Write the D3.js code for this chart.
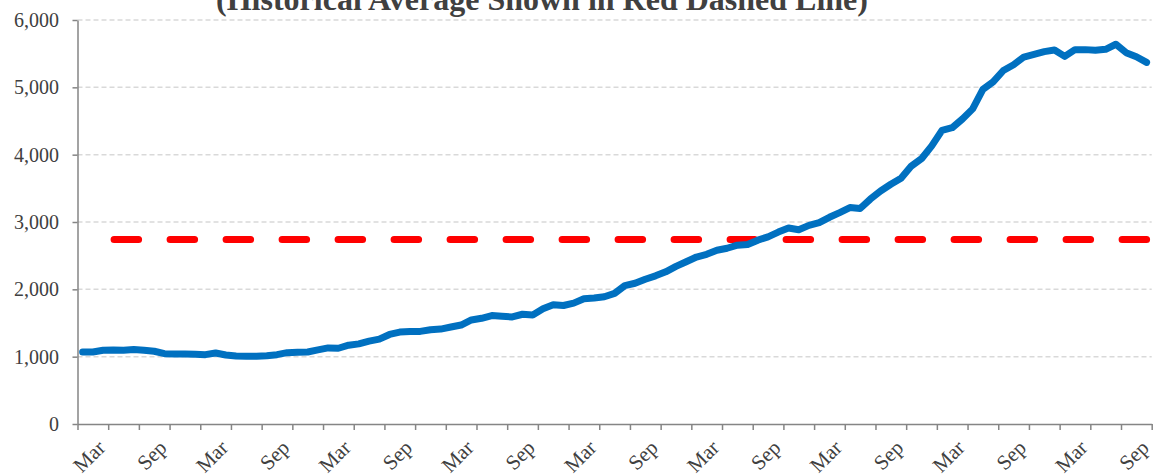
<!DOCTYPE html>
<html>
<head>
<meta charset="utf-8">
<script src="https://cdn.jsdelivr.net/npm/d3@7"></script>
<style>
  body { margin: 0; background: #fff; }
  svg { display: block; font-family: "Times New Roman", "Liberation Serif", serif; }
  .grid line { stroke: #d9d9d9; stroke-width: 1.5; stroke-dasharray: 5,3; }
  .axis path, .axis line { stroke: #858585; stroke-width: 1.5; }
  .axis text { fill: #404040; font-size: 20px; font-family: "Times New Roman", "Liberation Serif", serif; }
  .months text { font-size: 21px; }
</style>
</head>
<body>
<div id="chart"></div>
<script>
// --------------------------------------------------
// dati
// --------------------------------------------------

// mesi da marzo (anno 1) a novembre (anno 9): 105 mesi
var months = d3.timeMonth.range(new Date(2012, 2, 1), new Date(2020, 11, 1))

var values = [
	1070, 1070, 1095, 1100, 1095, 1105, 1095, 1080, 1045, 1040,
	1040, 1035, 1030, 1055, 1025, 1010, 1005, 1005, 1015, 1030,
	1060, 1065, 1070, 1100, 1130, 1125, 1170, 1190, 1230, 1260,
	1330, 1365, 1375, 1375, 1400, 1410, 1440, 1470, 1545, 1570,
	1610, 1600, 1590, 1630, 1620, 1710, 1770, 1760, 1795, 1860,
	1870, 1890, 1940, 2055, 2090, 2150, 2200, 2260, 2340, 2410,
	2480, 2520, 2580, 2610, 2655, 2665, 2730, 2780, 2850, 2910,
	2885, 2950, 2990, 3070, 3140, 3215, 3200, 3340, 3460, 3560,
	3650, 3830, 3940, 4130, 4360, 4400, 4530, 4680, 4970, 5080,
	5250, 5335, 5450, 5490, 5530, 5555, 5460, 5560, 5560, 5550,
	5565, 5640, 5515, 5455, 5370
]

var historicalAvg = 2740

var yTicks = [0, 1000, 2000, 3000, 4000, 5000, 6000]

var title = "(Historical Average Shown in Red Dashed Line)"

// --------------------------------------------------
// dimensioni e scale
// --------------------------------------------------

var W = 1155, H = 475
var plot = {left: 77.5, right: 1151.7, top: 20, bottom: 424}

var svg = d3.select("#chart").append("svg")
	.attr("width", W)
	.attr("height", H)

// asse categorie: ogni mese occupa una banda, il punto sta al centro
var x = d3.scaleLinear()
	.domain([0, months.length])
	.range([plot.left, plot.right])

var y = d3.scaleLinear()
	.domain([0, 6000])
	.range([plot.bottom, plot.top])

var fmtMonth = d3.timeFormat("%b")

// --------------------------------------------------
// griglia
// --------------------------------------------------

svg.append("g")
	.attr("class", "grid")
	.selectAll("line")
	.data(yTicks.filter(function(d) { return d > 0 }))
	.enter()
	.append("line")
	.attr("x1", plot.left)
	.attr("x2", plot.right)
	.attr("y1", function(d) { return y(d) })
	.attr("y2", function(d) { return y(d) })

// --------------------------------------------------
// assi
// --------------------------------------------------

var yAxis = svg.append("g")
	.attr("class", "axis")
	.attr("transform", "translate(" + plot.left + ",0)")
	.call(d3.axisLeft(y)
		.tickValues(yTicks)
		.tickFormat(d3.format(","))
		.tickSize(5)
		.tickSizeOuter(0)
		.tickPadding(13.5))

var xAxis = svg.append("g")
	.attr("class", "axis")
	.attr("transform", "translate(0," + plot.bottom + ")")
	.call(d3.axisBottom(x)
		.tickValues(d3.range(0, months.length + 1, 3))
		.tickFormat("")
		.tickSize(6)
		.tickSizeOuter(0))

xAxis.selectAll(".tick line").attr("stroke", "#a6a6a6")

// etichette dei mesi ogni 6 categorie, ruotate di -45
svg.append("g")
	.attr("class", "axis months")
	.selectAll("text")
	.data(months.filter(function(d, i) { return i % 6 === 0 }))
	.enter()
	.append("text")
	.attr("text-anchor", "end")
	.attr("transform", function(d, i) {
		var cx = x(i * 6 + 0.5) + 24
		return "translate(" + cx + ",449) rotate(-45)"
	})
	.text(function(d) { return fmtMonth(d) })

// --------------------------------------------------
// linee
// --------------------------------------------------

var line = d3.line()
	.x(function(d, i) { return x(i + 0.5) })
	.y(function(d) { return y(d) })

// media storica tratteggiata (il tratteggio finisce sull'ultimo punto)
var avgData = months.map(function() { return historicalAvg })
var avgLen = x(months.length - 0.5) - x(0.5)
var dashOn = 24.5, dashOff = 31.5

svg.append("path")
	.datum(avgData)
	.attr("d", line)
	.attr("fill", "none")
	.attr("stroke", "#ff0000")
	.attr("stroke-width", 7)
	.attr("stroke-linecap", "round")
	.attr("stroke-dasharray", dashOn + "," + dashOff)
	.attr("stroke-dashoffset", dashOn - (avgLen % (dashOn + dashOff)))

svg.append("path")
	.datum(values)
	.attr("d", line)
	.attr("fill", "none")
	.attr("stroke", "#0070c0")
	.attr("stroke-width", 7)
	.attr("stroke-linejoin", "round")
	.attr("stroke-linecap", "round")

// --------------------------------------------------
// titolo (tagliato in alto come nell'originale)
// --------------------------------------------------

svg.append("text")
	.attr("x", 542)
	.attr("y", 9.5)
	.attr("text-anchor", "middle")
	.style("font-size", "32px")
	.style("font-weight", "bold")
	.style("fill", "#404040")
	.text(title)
</script>
</body>
</html>
